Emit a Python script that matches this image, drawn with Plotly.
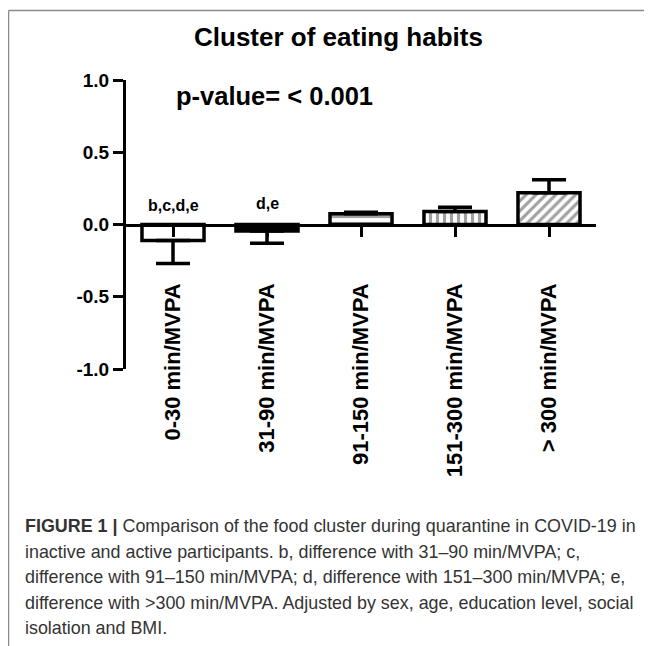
import plotly.graph_objects as go

# ---- data ----
categories = ["0-30 min/MVPA", "31-90 min/MVPA", "91-150 min/MVPA", "151-300 min/MVPA", "> 300 min/MVPA"]
means = [-0.11, -0.045, 0.075, 0.09, 0.22]
err_up = [0.0, 0.0, 0.01, 0.03, 0.09]
err_down = [0.16, 0.085, 0.0, 0.0, 0.0]
sig_labels = ["b,c,d,e", "d,e", "", "", ""]
sig_y = [0.13, 0.145, None, None, None]
fill_colors = ["white", "black", "white", "white", "white"]
patterns = ["", "", "-", "|", "/"]
y_tickvals = [-1.0, -0.5, 0.0, 0.5, 1.0]
y_ticktext = ["-1.0", "-0.5", "0.0", "0.5", "1.0"]
title_text = "Cluster of eating habits"
pvalue_text = "p-value= < 0.001"
caption_lines = [
    "<b>FIGURE 1 |</b> Comparison of the food cluster during quarantine in COVID-19 in",
    "inactive and active participants. b, difference with 31–90 min/MVPA; c,",
    "difference with 91–150 min/MVPA; d, difference with 151–300 min/MVPA; e,",
    "difference with &gt;300 min/MVPA. Adjusted by sex, age, education level, social",
    "isolation and BMI.",
]

# page body has an 8px margin: figure is offset by (8, 8)
OFF = 8
W, H = 652 - OFF, 646 - OFF
ML, MR, MT, MB = 126 - OFF, 56, 80 - OFF, 277
PW, PH = W - ML - MR, H - MT - MB

def px_x(p):
    return (p - OFF - ML) / PW

def px_y(p):
    return (H - MB - (p - OFF)) / PH

BOLD = dict(family="Liberation Sans, Arial, sans-serif", color="black", weight="bold")

fig = go.Figure()
fig.add_trace(go.Bar(
    x=categories, y=means, width=0.66,
    marker=dict(color=fill_colors, line=dict(color="black", width=3.5),
                pattern=dict(shape=patterns, fgcolor="black", size=7, solidity=0.45)),
    error_y=dict(type="data", symmetric=False, array=err_up, arrayminus=err_down,
                 color="black", thickness=3.5, width=17),
    showlegend=False, hoverinfo="skip",
))

fig.update_xaxes(
    range=[-0.5, 4.5], anchor="free", position=0.5,
    showline=True, linecolor="black", linewidth=3,
    ticks="outside", ticklen=10, tickwidth=2.5, tickcolor="black",
    tickangle=-90, ticklabelstandoff=38,
    tickfont=dict(size=22, **BOLD), showgrid=False, zeroline=False,
)
fig.update_yaxes(
    range=[-1, 1], tickvals=y_tickvals, ticktext=y_ticktext,
    showline=True, linecolor="black", linewidth=3,
    ticks="outside", ticklen=10, tickwidth=3, tickcolor="black",
    tickfont=dict(size=19, **BOLD), showgrid=False, zeroline=False,
)

annotations = []
for c, t, yv in zip(categories, sig_labels, sig_y):
    if t:
        annotations.append(dict(x=c, y=yv, xref="x", yref="y", text="<b>" + t + "</b>",
                                showarrow=False, font=dict(size=16, **BOLD)))
annotations.append(dict(x=px_x(174), y=px_y(96), xref="paper", yref="paper", xanchor="left",
                        yanchor="middle", text="<b>" + pvalue_text + "</b>", showarrow=False,
                        font=dict(size=25.5, **BOLD)))
annotations.append(dict(x=px_x(338), y=px_y(37), xref="paper", yref="paper", xanchor="center",
                        yanchor="middle", text="<b>" + title_text + "</b>", showarrow=False,
                        font=dict(size=26, **BOLD)))
line_y = [526, 551.5, 577, 603, 628]
for txt, yy in zip(caption_lines, line_y):
    annotations.append(dict(x=px_x(23), y=px_y(yy), xref="paper", yref="paper", xanchor="left",
                            yanchor="middle", text=txt, showarrow=False,
                            font=dict(size=17.9, family="Liberation Sans, Arial, sans-serif", color="#333333")))

shapes = [
    dict(type="line", xref="paper", yref="paper", x0=px_x(8.5), x1=px_x(670), y0=px_y(10.5), y1=px_y(10.5),
         line=dict(color="#8a8a8a", width=1.5)),
    dict(type="line", xref="paper", yref="paper", x0=px_x(8.5), x1=px_x(8.5), y0=px_y(10.5), y1=px_y(670),
         line=dict(color="#8a8a8a", width=1.5)),
]

fig.update_layout(
    width=W, height=H, margin=dict(l=ML, r=MR, t=MT, b=MB, autoexpand=False),
    paper_bgcolor="white", plot_bgcolor="white",
    annotations=annotations, shapes=shapes, bargap=0.34,
)

fig.write_html("out.html")
